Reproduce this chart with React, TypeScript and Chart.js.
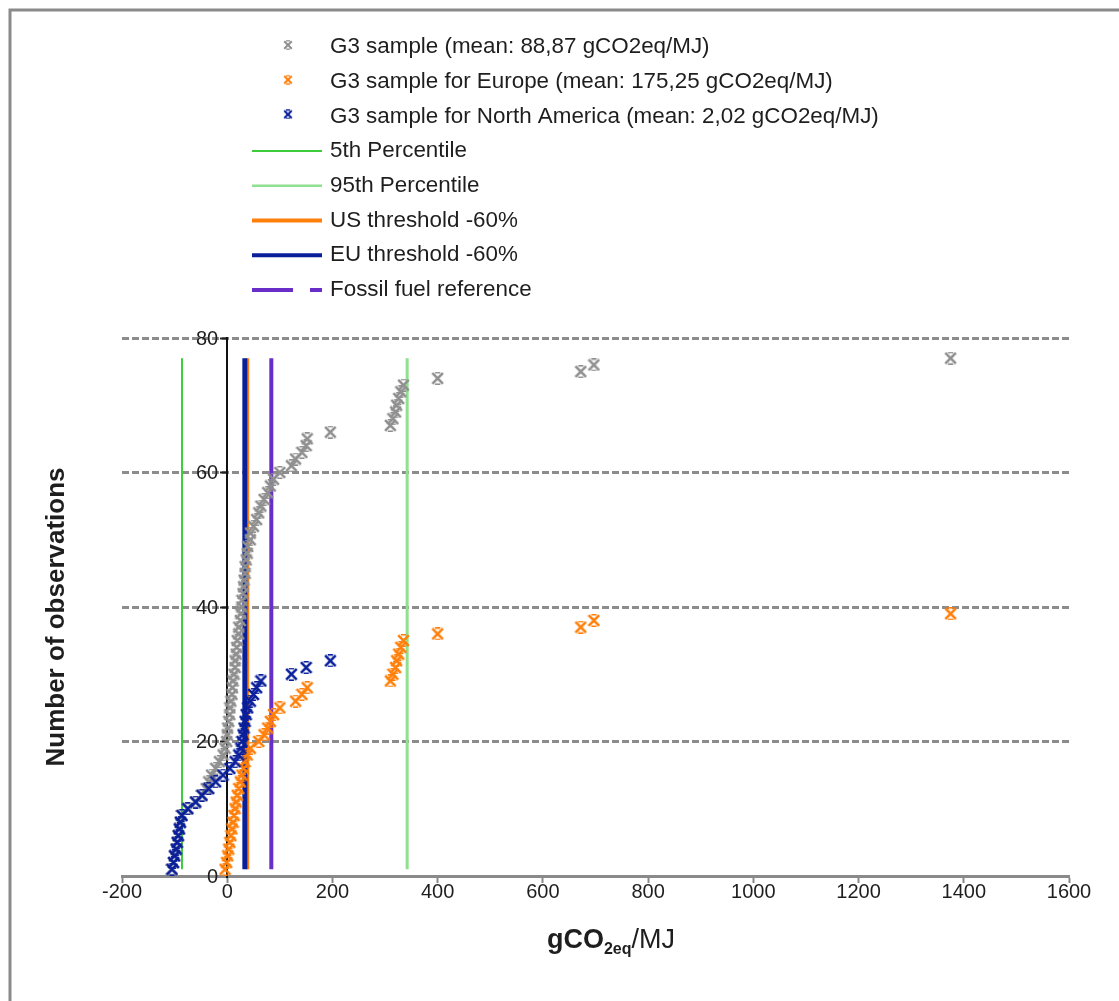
import React, { useEffect, useRef } from "react";
import { Chart, registerables } from "chart.js";

Chart.register(...registerables);

const FONT = '"Liberation Sans", Arial, Helvetica, sans-serif';

// Sorted observations (gCO2eq/MJ); y = cumulative number of observations
const g3Sample = [
  -105, -102, -100, -97, -95, -93, -91, -89, -86, -75,
  -60, -48, -40, -35, -30, -22, -15, -8, -4, -1,
  0, 1, 3, 5, 5, 7, 9, 10, 11, 13,
  15, 15, 17, 18, 19, 22, 22, 25, 26, 28,
  28, 30, 31, 32, 34, 34, 36, 38, 39, 44,
  44, 50, 56, 60, 64, 70, 77, 82, 88, 100,
  122, 130, 142, 150, 152, 196, 310, 315, 320, 322,
  326, 330, 335, 400, 672, 697, 1375,
];
const g3Europe = [
  -4, -1, 1, 3, 5, 7, 9, 11, 13, 15,
  17, 19, 22, 25, 28, 31, 34, 38, 44, 60,
  70, 77, 82, 88, 100, 130, 142, 152, 310, 315,
  320, 322, 326, 330, 335, 400, 672, 697, 1375,
];
const g3NorthAmerica = [
  -105, -102, -100, -97, -95, -93, -91, -89, -86, -75,
  -60, -48, -35, -22, -8, 5, 15, 22, 26, 28,
  30, 32, 34, 36, 39, 44, 50, 56, 64, 122,
  150, 196,
];

const percentile5th = -86;
const percentile95th = 342;
const usThreshold60 = 38;
const euThreshold60 = 33.5;
const fossilFuelReference = 83.8;
const referenceLineSpan = [1, 77];

const xRange = [-200, 1600];
const xStep = 200;
const yRange = [0, 80];
const yStep = 20;

const seriesLabels = [
  "G3 sample (mean: 88,87 gCO2eq/MJ)",
  "G3 sample for Europe (mean: 175,25 gCO2eq/MJ)",
  "G3 sample for North America (mean: 2,02 gCO2eq/MJ)",
  "5th Percentile",
  "95th Percentile",
  "US threshold -60%",
  "EU threshold -60%",
  "Fossil fuel reference",
];
const yAxisTitle = "Number of observations";

const GRAY = "#8f8f8f";
const ORANGE = "#ff7f0a";
const BLUE = "#0a1f9a";
const GREEN = "#3ccc3c";
const LIGHT_GREEN = "#8fe08f";
const PURPLE = "#6a2ec8";
const TEXT = "#1e1e1e";

function makeMarker(color: string, size: number, lw: number) {
  const c = document.createElement("canvas");
  c.width = size;
  c.height = size;
  const g = c.getContext("2d")!;
  g.strokeStyle = color;
  g.lineWidth = lw;
  g.lineCap = "butt";
  const a = 1.2;
  const b = size - a;
  g.beginPath();
  g.moveTo(a, a);
  g.lineTo(b, b);
  g.moveTo(b, a);
  g.lineTo(a, b);
  g.stroke();
  g.lineWidth = Math.max(1, lw * 0.6);
  const q = size * 0.3;
  g.beginPath();
  g.moveTo(q, 0.8);
  g.lineTo(size - q, 0.8);
  g.moveTo(q, size - 0.8);
  g.lineTo(size - q, size - 0.8);
  g.stroke();
  return c;
}

const cumulative = (vals: number[]) => vals.map((v, i) => ({ x: v, y: i + 1 }));
const vertical = (v: number) => [
  { x: v, y: referenceLineSpan[0] },
  { x: v, y: referenceLineSpan[1] },
];

const framePlugin = {
  id: "frame",
  beforeDraw(chart: any) {
    const ctx = chart.ctx;
    ctx.save();
    ctx.fillStyle = "#ffffff";
    ctx.fillRect(0, 0, chart.width, chart.height);
    ctx.strokeStyle = "#8a8a8a";
    ctx.lineWidth = 3;
    ctx.beginPath();
    ctx.moveTo(8.5, 10);
    ctx.lineTo(chart.width, 10);
    ctx.moveTo(10, 8.5);
    ctx.lineTo(10, chart.height);
    ctx.stroke();
    ctx.restore();
  },
};

const yLabelPlugin = {
  id: "yLabels",
  afterDraw(chart: any) {
    const ctx = chart.ctx;
    const ys = chart.scales.y;
    const xs = chart.scales.x;
    const axisX = xs.getPixelForValue(0);
    ctx.save();
    ctx.font = `20px ${FONT}`;
    ctx.fillStyle = TEXT;
    ctx.textAlign = "right";
    ctx.textBaseline = "middle";
    ys.ticks.forEach((t: any) => {
      ctx.fillText(String(t.value), axisX - 9, ys.getPixelForValue(t.value) + 1);
    });
    ctx.restore();
  },
};

const legendPlugin = {
  id: "customLegend",
  afterDraw(chart: any) {
    const ctx = chart.ctx;
    ctx.save();
    ctx.font = `22.4px ${FONT}`;
    ctx.textBaseline = "middle";
    ctx.textAlign = "left";
    const top = 47;
    const step = 34.7;
    chart.data.datasets.forEach((ds: any, i: number) => {
      const y = top + i * step;
      if (ds.legendMarker) {
        const m = ds.legendMarker;
        ctx.drawImage(m, 288 - m.width / 2, y - 2 - m.height / 2);
      } else {
        ctx.strokeStyle = ds.borderColor;
        ctx.lineWidth = ds.legendWidth;
        ctx.setLineDash(ds.legendDash || []);
        ctx.beginPath();
        ctx.moveTo(252, y);
        ctx.lineTo(322, y);
        ctx.stroke();
        ctx.setLineDash([]);
      }
      ctx.fillStyle = TEXT;
      ctx.fillText(ds.label, 330, y);
    });
    ctx.restore();
  },
};

const titlePlugin = {
  id: "axisTitles",
  afterDraw(chart: any) {
    const ctx = chart.ctx;
    const area = chart.chartArea;
    ctx.save();
    ctx.fillStyle = TEXT;
    ctx.textBaseline = "alphabetic";
    ctx.textAlign = "left";
    const parts = [
      { t: "gCO", f: `bold 27px ${FONT}`, dy: 0 },
      { t: "2eq", f: `bold 16px ${FONT}`, dy: 6 },
      { t: "/MJ", f: `27px ${FONT}`, dy: 0 },
    ];
    let total = 0;
    parts.forEach((p) => {
      ctx.font = p.f;
      total += ctx.measureText(p.t).width;
    });
    let x = 611 - total / 2;
    const base = 948;
    parts.forEach((p) => {
      ctx.font = p.f;
      ctx.fillText(p.t, x, base + p.dy);
      x += ctx.measureText(p.t).width;
    });
    ctx.translate(57, (area.top + area.bottom) / 2 + 10);
    ctx.rotate(-Math.PI / 2);
    ctx.font = `bold 26px ${FONT}`;
    ctx.textAlign = "center";
    ctx.textBaseline = "middle";
    ctx.fillText(yAxisTitle, 0, 0);
    ctx.restore();
  },
};

export default function App() {
  const ref = useRef<HTMLCanvasElement | null>(null);

  useEffect(() => {
    const canvas = ref.current;
    if (!canvas) return;
    const grayM = makeMarker(GRAY, 13, 2.6);
    const orangeM = makeMarker(ORANGE, 13, 2.6);
    const blueM = makeMarker(BLUE, 13, 2.6);

    const chart = new Chart(canvas, {
      type: "scatter",
      data: {
        datasets: [
          {
            label: seriesLabels[0],
            data: cumulative(g3Sample),
            pointStyle: grayM as any,
            showLine: false,
            order: 3,
            legendMarker: makeMarker(GRAY, 10, 2),
          } as any,
          {
            label: seriesLabels[1],
            data: cumulative(g3Europe),
            pointStyle: orangeM as any,
            showLine: false,
            order: 2,
            legendMarker: makeMarker(ORANGE, 10, 2),
          },
          {
            label: seriesLabels[2],
            data: cumulative(g3NorthAmerica),
            pointStyle: blueM as any,
            showLine: false,
            order: 1,
            legendMarker: makeMarker(BLUE, 10, 2),
          },
          {
            label: seriesLabels[3],
            data: vertical(percentile5th),
            showLine: true,
            borderColor: GREEN,
            borderWidth: 2,
            pointRadius: 0,
            order: 8,
            legendWidth: 2,
          },
          {
            label: seriesLabels[4],
            data: vertical(percentile95th),
            showLine: true,
            borderColor: LIGHT_GREEN,
            borderWidth: 3,
            pointRadius: 0,
            order: 7,
            legendWidth: 2.5,
          },
          {
            label: seriesLabels[5],
            data: vertical(usThreshold60),
            showLine: true,
            borderColor: ORANGE,
            borderWidth: 4,
            pointRadius: 0,
            order: 6,
            legendWidth: 4,
          },
          {
            label: seriesLabels[6],
            data: vertical(euThreshold60),
            showLine: true,
            borderColor: BLUE,
            borderWidth: 5,
            pointRadius: 0,
            order: 5,
            legendWidth: 4,
          },
          {
            label: seriesLabels[7],
            data: vertical(fossilFuelReference),
            showLine: true,
            borderColor: PURPLE,
            borderWidth: 4,
            pointRadius: 0,
            order: 4,
            legendWidth: 4,
            legendDash: [41, 17],
          },
        ] as any,
      },
      options: {
        responsive: false,
        animation: false,
        devicePixelRatio: 1,
        layout: { padding: { left: 122, right: 50, top: 338, bottom: 0 } },
        plugins: {
          legend: { display: false },
          tooltip: { enabled: false },
        },
        scales: {
          x: {
            type: "linear",
            min: xRange[0],
            max: xRange[1],
            ticks: {
              stepSize: xStep,
              color: TEXT,
              font: { size: 20, family: FONT },
              padding: -3,
              maxRotation: 0,
              callback: (v: any) => String(v),
            },
            grid: {
              drawOnChartArea: false,
              drawTicks: true,
              tickLength: 7,
              tickColor: "#888888",
              tickWidth: 2,
            },
            border: { color: "#8a8a8a", width: 3 },
            afterFit: (s: any) => {
              s.height = 125;
            },
          },
          y: {
            type: "linear",
            position: { x: 0 } as any,
            min: yRange[0],
            max: yRange[1],
            ticks: {
              stepSize: yStep,
              display: false,
            },
            grid: {
              color: (c: any) => (c.tick && c.tick.value === 0 ? "rgba(0,0,0,0)" : "#8c8c8c"),
              lineWidth: 3,
              drawTicks: true,
              tickLength: 6,
              tickColor: "#222222",
              tickWidth: 2,
              tickBorderDash: [],
            } as any,
            border: { color: "#111111", width: 2, dash: [7, 3] },
          },
        },
      } as any,
      plugins: [framePlugin, yLabelPlugin, legendPlugin, titlePlugin],
    });
    return () => chart.destroy();
  }, []);

  return (
    <div style={{ position: "absolute", left: 0, top: 0, width: 1119, height: 1001 }}>
      <canvas ref={ref} width={1119} height={1001} style={{ display: "block" }} />
    </div>
  );
}
